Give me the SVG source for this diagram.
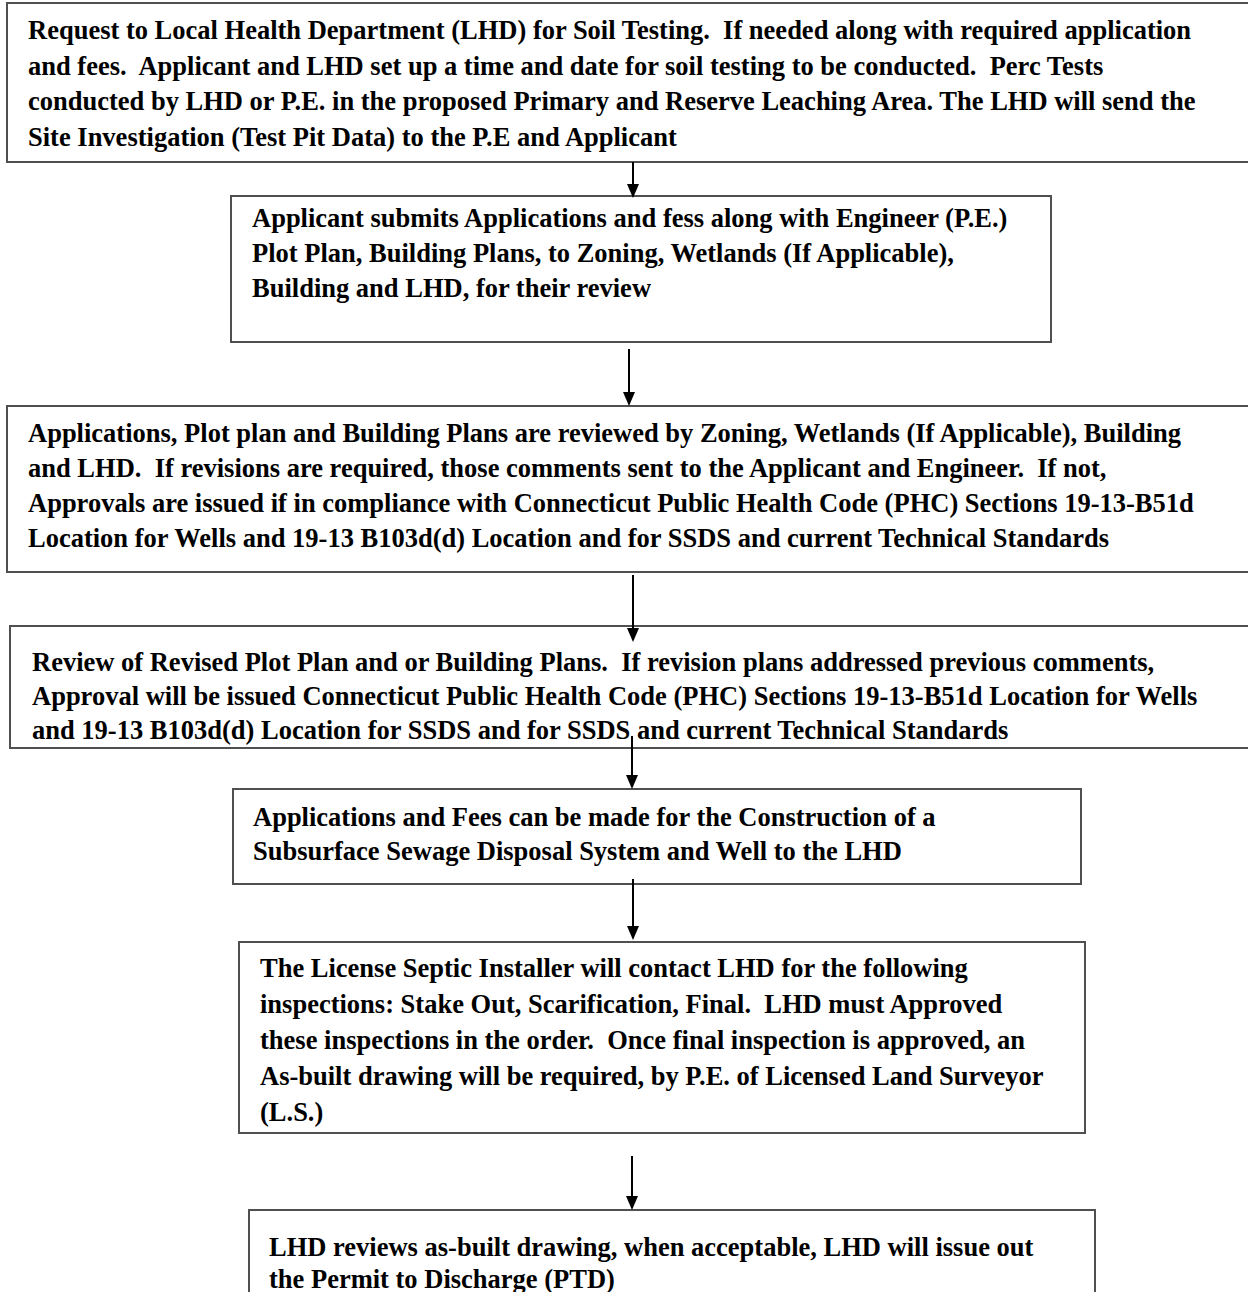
<svg xmlns="http://www.w3.org/2000/svg" width="1248" height="1292" viewBox="0 0 1248 1292" xml:space="preserve">
<defs>
<style>
.box{fill:#fff;stroke:#505050;stroke-width:2}
.t{font-family:"Liberation Serif","Times New Roman",serif;font-weight:bold;font-size:26.5px;fill:#000;white-space:pre}
.c{stroke:#000;stroke-width:2;fill:none}
.h{fill:#000}
</style>
</defs>
<rect width="1248" height="1292" fill="#fff"/>
<g id="n1">
<rect class="box" x="7" y="3" width="1260" height="159"/>
<text class="t" x="28" y="39">Request to Local Health Department (LHD) for Soil Testing.  If needed along with required application</text>
<text class="t" x="28" y="75">and fees.  Applicant and LHD set up a time and date for soil testing to be conducted.  Perc Tests</text>
<text class="t" x="28" y="110">conducted by LHD or P.E. in the proposed Primary and Reserve Leaching Area. The LHD will send the</text>
<text class="t" x="28" y="146">Site Investigation (Test Pit Data) to the P.E and Applicant</text>
</g>
<g id="n2">
<rect class="box" x="231" y="196" width="820" height="146"/>
<text class="t" x="252" y="227">Applicant submits Applications and fess along with Engineer (P.E.)</text>
<text class="t" x="252" y="262">Plot Plan, Building Plans, to Zoning, Wetlands (If Applicable),</text>
<text class="t" x="252" y="297">Building and LHD, for their review</text>
</g>
<g id="n3">
<rect class="box" x="7" y="406" width="1260" height="166"/>
<text class="t" x="28" y="442">Applications, Plot plan and Building Plans are reviewed by Zoning, Wetlands (If Applicable), Building</text>
<text class="t" x="28" y="477">and LHD.  If revisions are required, those comments sent to the Applicant and Engineer.  If not,</text>
<text class="t" x="28" y="512">Approvals are issued if in compliance with Connecticut Public Health Code (PHC) Sections 19-13-B51d</text>
<text class="t" x="28" y="547">Location for Wells and 19-13 B103d(d) Location and for SSDS and current Technical Standards</text>
</g>
<g id="n4">
<rect class="box" x="10" y="626" width="1260" height="122"/>
<text class="t" x="32" y="671">Review of Revised Plot Plan and or Building Plans.  If revision plans addressed previous comments,</text>
<text class="t" x="32" y="705">Approval will be issued Connecticut Public Health Code (PHC) Sections 19-13-B51d Location for Wells</text>
<text class="t" x="32" y="739">and 19-13 B103d(d) Location for SSDS and for SSDS and current Technical Standards</text>
</g>
<g id="n5">
<rect class="box" x="233" y="789" width="848" height="95"/>
<text class="t" x="253" y="826">Applications and Fees can be made for the Construction of a</text>
<text class="t" x="253" y="860">Subsurface Sewage Disposal System and Well to the LHD</text>
</g>
<g id="n6">
<rect class="box" x="239" y="942" width="846" height="191"/>
<text class="t" x="260" y="977">The License Septic Installer will contact LHD for the following</text>
<text class="t" x="260" y="1013">inspections: Stake Out, Scarification, Final.  LHD must Approved</text>
<text class="t" x="260" y="1049">these inspections in the order.  Once final inspection is approved, an</text>
<text class="t" x="260" y="1085">As-built drawing will be required, by P.E. of Licensed Land Surveyor</text>
<text class="t" x="260" y="1121">(L.S.)</text>
</g>
<g id="n7">
<rect class="box" x="249" y="1210" width="846" height="100"/>
<text class="t" x="269" y="1256">LHD reviews as-built drawing, when acceptable, LHD will issue out</text>
<text class="t" x="269" y="1288">the Permit to Discharge (PTD)</text>
</g>
<g id="connectors">
<line class="c" x1="633" y1="162" x2="633" y2="186"/><polygon class="h" points="627,184 639,184 633,198"/>
<line class="c" x1="629" y1="349" x2="629" y2="394"/><polygon class="h" points="623,392 635,392 629,406"/>
<line class="c" x1="633" y1="575" x2="633" y2="630"/><polygon class="h" points="627,628 639,628 633,642"/>
<line class="c" x1="632" y1="736" x2="632" y2="777"/><polygon class="h" points="626,775 638,775 632,789"/>
<line class="c" x1="633" y1="879" x2="633" y2="928"/><polygon class="h" points="627,926 639,926 633,940"/>
<line class="c" x1="632" y1="1156" x2="632" y2="1198"/><polygon class="h" points="626,1196 638,1196 632,1210"/>
</g>
</svg>
